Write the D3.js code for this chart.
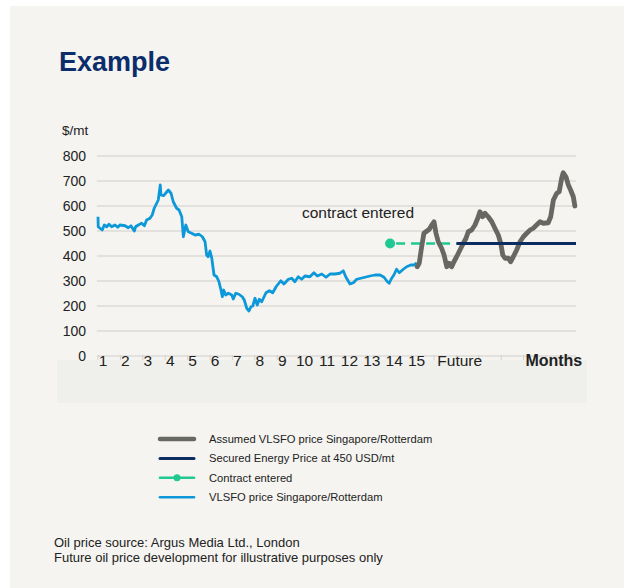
<!DOCTYPE html>
<html>
<head>
<meta charset="utf-8">
<script src="https://cdn.jsdelivr.net/npm/d3@7"></script>
<style>
	body { margin: 0; background: #fff; }
	svg { display: block; font-family: 'Liberation Sans', Arial, sans-serif; }
</style>
</head>
<body>
<svg id="chart" width="630" height="588"></svg>
<script>
// month index (0 = start of month 1) and price in $/mt
const blueMonths = [0, 0.01, 0.13, 0.19, 0.28, 0.39, 0.49, 0.61, 0.76, 0.88, 0.98, 1.21, 1.35, 1.47, 1.62, 1.68, 1.80, 1.95, 2.07, 2.17,
	2.32, 2.42, 2.51, 2.62, 2.69, 2.78, 2.81, 2.92, 3.02, 3.14, 3.26, 3.36, 3.51, 3.62, 3.74, 3.81, 3.92, 4.03, 4.18, 4.33,
	4.51, 4.66, 4.78, 4.85, 4.92, 5.00, 5.08, 5.18, 5.30, 5.40, 5.49, 5.55, 5.61, 5.70, 5.82, 5.97, 6.04, 6.15, 6.29, 6.44,
	6.53, 6.64, 6.74, 6.83, 6.91, 7.01, 7.11, 7.20, 7.31, 7.50, 7.65, 7.80, 7.95, 8.16, 8.30, 8.50, 8.65, 8.79, 8.94, 9.09,
	9.24, 9.46, 9.64, 9.79, 9.99, 10.18, 10.36, 10.58, 10.80, 10.95, 11.07, 11.25, 11.40, 11.55, 11.73, 11.92, 12.14, 12.37, 12.59, 12.77,
	12.92, 13.00, 13.11, 13.21, 13.33, 13.45, 13.63, 13.78, 13.96, 14.11, 14.23];
const bluePrices = [557, 517, 508, 504, 524, 517, 527, 517, 524, 515, 524, 521, 513, 521, 500, 517, 524, 531, 521, 544,
	551, 564, 591, 611, 624, 684, 644, 641, 651, 664, 651, 617, 591, 584, 557, 477, 524, 497, 491, 484,
	487, 477, 457, 404, 397, 420, 391, 324, 317, 297, 264, 237, 264, 244, 251, 244, 228, 251, 247, 237,
	224, 191, 180, 197, 200, 231, 204, 227, 217, 253, 261, 253, 277, 301, 288, 307, 311, 297, 317, 307,
	320, 317, 333, 320, 328, 315, 328, 328, 331, 341, 315, 288, 293, 307, 311, 315, 320, 324, 324, 315,
	297, 291, 311, 324, 347, 333, 347, 357, 364, 364, 373];

const grayMonths = [14.25, 14.34, 14.45, 14.55, 14.64, 14.79, 14.90, 15.00, 15.09, 15.19, 15.34, 15.45, 15.57, 15.68, 15.79, 15.89, 16.01, 16.16, 16.31, 16.43,
	16.53, 16.68, 16.83, 16.98, 17.05, 17.17, 17.28, 17.42, 17.58, 17.72, 17.87, 17.98, 18.07, 18.17, 18.32, 18.42, 18.54, 18.69, 18.84, 18.99,
	19.14, 19.29, 19.43, 19.58, 19.73, 19.88, 20.10, 20.21, 20.33, 20.48, 20.59, 20.70, 20.77, 20.89, 21.00, 21.10, 21.22, 21.29];
const grayPrices = [357, 371, 437, 491, 497, 507, 524, 537, 491, 457, 431, 404, 357, 371, 357, 377, 397, 424, 451, 471,
	497, 504, 524, 557, 577, 557, 571, 557, 537, 511, 484, 451, 404, 391, 391, 377, 397, 424, 457, 477,
	491, 504, 511, 524, 537, 531, 533, 557, 624, 651, 657, 711, 733, 717, 684, 664, 637, 600];

const securedPrice = 450;
const securedMonths = [16.0, 21.34];
const contractMonths = [13.04, 16.0];

const yTicks = [0, 100, 200, 300, 400, 500, 600, 700, 800];
const xTickLabels = ['1', '2', '3', '4', '5', '6', '7', '8', '9', '10', '11', '12', '13', '14', '15'];

const legendLabels = [
	'Assumed VLSFO price Singapore/Rotterdam',
	'Secured Energy Price at 450 USD/mt',
	'Contract entered',
	'VLSFO price Singapore/Rotterdam'
];
const footnotes = [
	'Oil price source: Argus Media Ltd., London',
	'Future oil price development for illustrative purposes only'
];

const colours = { blue: '#0c98d9', gray: '#686863', navy: '#0b2d62', green: '#20c992', grid: '#dcdbd7', text: '#222' };

const svg = d3.select('#chart');

svg.append('rect').attr('x', 10).attr('y', 6).attr('width', 614).attr('height', 582).attr('fill', '#f5f4f0');
svg.append('rect').attr('x', 57).attr('y', 360).attr('width', 530).attr('height', 43).attr('fill', '#efefeb');

svg.append('text').attr('x', 59).attr('y', 71)
	.attr('font-size', 27).attr('font-weight', 'bold').attr('fill', '#0b2d6b')
	.text('Example');

const x = d3.scaleLinear().domain([0, 21.34]).range([98, 576]);
const y = d3.scaleLinear().domain([0, 800]).range([356, 156]);

svg.append('text').attr('x', 62).attr('y', 135).attr('font-size', 13.5).attr('fill', colours.text).text('$/mt');

// grid + y labels
const grid = svg.append('g');
grid.selectAll('line').data(yTicks).enter().append('line')
	.attr('x1', x(-0.05)).attr('x2', x.range()[1])
	.attr('y1', d => y(d)).attr('y2', d => y(d))
	.attr('stroke', colours.grid).attr('stroke-width', 1.4);
grid.selectAll('text').data(yTicks).enter().append('text')
	.attr('x', 86).attr('y', d => y(d)).attr('dy', '0.35em')
	.attr('text-anchor', 'end').attr('font-size', 14).attr('fill', colours.text)
	.text(d => d);

// x axis ticks
svg.append('g').selectAll('line').data(d3.range(0, 22)).enter().append('line')
	.attr('x1', d => x(d)).attr('x2', d => x(d))
	.attr('y1', y(0) - 1).attr('y2', y(0) + 4)
	.attr('stroke', '#d2d1cd').attr('stroke-width', 1);

svg.append('g').selectAll('text').data(xTickLabels).enter().append('text')
	.attr('x', (d, i) => x(i) + 5).attr('y', 366)
	.attr('text-anchor', 'middle').attr('font-size', 15.5).attr('fill', colours.text)
	.text(d => d);
svg.append('text').attr('x', x(16.15)).attr('y', 366).attr('text-anchor', 'middle')
	.attr('font-size', 15.5).attr('fill', colours.text).text('Future');
svg.append('text').attr('x', x(20.35)).attr('y', 366).attr('text-anchor', 'middle')
	.attr('font-size', 16).attr('font-weight', 'bold').attr('fill', colours.text).text('Months');

const line = d3.line().x(d => x(d[0])).y(d => y(d[1]));

svg.append('path')
	.attr('d', line(d3.zip(blueMonths, bluePrices)))
	.attr('fill', 'none').attr('stroke', colours.blue).attr('stroke-width', 2.8)
	.attr('stroke-linejoin', 'round');

svg.append('path')
	.attr('d', line(contractMonths.map(m => [m, securedPrice])))
	.attr('fill', 'none').attr('stroke', colours.green).attr('stroke-width', 2.6)
	.attr('stroke-dasharray', '9,6').attr('stroke-dashoffset', -6);
svg.append('circle')
	.attr('cx', x(contractMonths[0])).attr('cy', y(securedPrice)).attr('r', 5)
	.attr('fill', colours.green);

svg.append('path')
	.attr('d', line(d3.zip(grayMonths, grayPrices)))
	.attr('fill', 'none').attr('stroke', colours.gray).attr('stroke-width', 4.8)
	.attr('stroke-linejoin', 'round').attr('stroke-linecap', 'round');

svg.append('path')
	.attr('d', line(securedMonths.map(m => [m, securedPrice])))
	.attr('fill', 'none').attr('stroke', colours.navy).attr('stroke-width', 3);

svg.append('text').attr('x', 302).attr('y', 218)
	.attr('font-size', 15.5).attr('fill', colours.text).text('contract entered');

// legend
const legendStyles = [
	{ colour: colours.gray, width: 4.5 },
	{ colour: colours.navy, width: 3 },
	{ colour: colours.green, width: 2.6, dot: true },
	{ colour: colours.blue, width: 2.6 }
];
const legend = svg.append('g').selectAll('g').data(legendLabels).enter().append('g')
	.attr('transform', (d, i) => `translate(0, ${439 + i * 19.4})`);
legend.append('line')
	.attr('x1', 160).attr('x2', 194).attr('y1', 0).attr('y2', 0)
	.attr('stroke', (d, i) => legendStyles[i].colour)
	.attr('stroke-width', (d, i) => legendStyles[i].width)
	.attr('stroke-linecap', 'round');
legend.filter((d, i) => legendStyles[i].dot).append('circle')
	.attr('cx', 177).attr('cy', 0).attr('r', 3.5).attr('fill', colours.green);
legend.append('text')
	.attr('x', 209).attr('y', 4).attr('font-size', 11.2).attr('fill', colours.text)
	.text(d => d);

svg.append('g').selectAll('text').data(footnotes).enter().append('text')
	.attr('x', 54).attr('y', (d, i) => 547 + i * 15)
	.attr('font-size', 13).attr('fill', colours.text)
	.text(d => d);
</script>
</body>
</html>
